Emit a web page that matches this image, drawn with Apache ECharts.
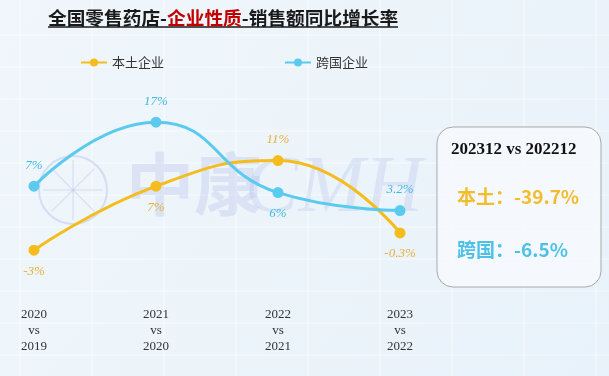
<!DOCTYPE html>
<html>
<head>
<meta charset="utf-8">
<script src="https://cdn.jsdelivr.net/npm/echarts@6/dist/echarts.min.js"></script>
<style>
html,body{margin:0;padding:0;}
#chart{width:609px;height:376px;}
</style>
</head>
<body>
<div id="chart"></div>
<script>
// data
let categories = ['2020\nvs\n2019','2021\nvs\n2020','2022\nvs\n2021','2023\nvs\n2022'];
let localData = [-3, 7, 11, -0.3];
let foreignData = [7, 17, 6, 3.2];
let localLabelPos = ['bottom','bottom','top','bottom'];
let foreignLabelPos = ['top','top','bottom','top'];
let localColor = '#F4BC1C';
let foreignColor = '#5ACAEE';

let chart = echarts.init(document.getElementById('chart'));

function makeData(vals, pos){
    return vals.map(function(v,i){
        return {value:v, label:{position:pos[i]}};
    });
}

// faint background grid like the slide
let bg = [];
for(let x=20;x<609;x+=72){
    bg.push({type:'line',silent:true,z:-10,shape:{x1:x,y1:0,x2:x,y2:376},style:{stroke:'rgba(255,255,255,0.35)',lineWidth:2}});
}
for(let y=35;y<376;y+=32){
    bg.push({type:'line',silent:true,z:-10,shape:{x1:0,y1:y,x2:609,y2:y},style:{stroke:'rgba(255,255,255,0.3)',lineWidth:2}});
}
// watermark logo petals
let wm = [];
for(let k=0;k<8;k++){
    let a = k*Math.PI/4;
    wm.push({type:'line',silent:true,z:-5,shape:{x1:73,y1:190,x2:73+30*Math.cos(a),y2:190+30*Math.sin(a)},style:{stroke:'rgba(175,185,230,0.3)',lineWidth:1.5}});
}

let option = {
    backgroundColor:new echarts.graphic.LinearGradient(0,0,1,1,[
        {offset:0,color:'#F0F6FB'},
        {offset:1,color:'#E8F2FA'}
    ]),
    title:{
        text:'{a|全国零售药店-}{b|企业性质}{a|-销售额同比增长率}',
        left:43,
        top:4,
        textStyle:{
            rich:{
                a:{color:'#1a1a1a',fontSize:18.7,fontWeight:'bold',fontFamily:'Noto Sans CJK SC'},
                b:{color:'#C00000',fontSize:18.7,fontWeight:'bold',fontFamily:'Noto Sans CJK SC'}
            }
        }
    },
    legend:{
        data:['本土企业','跨国企业'],
        left:75,
        top:51,
        itemGap:120,
        itemWidth:26,
        itemHeight:10,
        textStyle:{color:'#333',fontSize:13,fontFamily:'Noto Sans CJK SC'}
    },
    grid:{left:34,right:209,top:71,bottom:81,containLabel:false},
    xAxis:{
        type:'category',
        boundaryGap:false,
        data:categories,
        axisLine:{show:false},
        axisTick:{show:false},
        axisLabel:{
            color:'#333',
            fontSize:13,
            lineHeight:16,
            margin:12,
            fontFamily:'Liberation Serif'
        },
        splitLine:{show:false}
    },
    yAxis:{
        type:'value',
        min:-10,
        max:25,
        show:false,
        splitLine:{show:false}
    },
    graphic:bg.concat(wm).concat([
        {type:'line',shape:{x1:48,y1:27,x2:398,y2:27},style:{stroke:'#1a1a1a',lineWidth:1.5}},
        {type:'circle',silent:true,z:-5,shape:{cx:73,cy:190,r:34},style:{fill:'none',stroke:'rgba(175,185,230,0.4)',lineWidth:2}},
        {type:'text',silent:true,left:126,top:150,z:-5,style:{text:'中康',font:'bold 68px "Noto Sans CJK SC"',fill:'rgba(175,187,232,0.3)'}},
        {type:'text',silent:true,left:245,top:150,z:-5,style:{text:'CMH',font:'italic 80px "Liberation Serif"',fill:'rgba(175,187,232,0.28)'}},
        {type:'rect',shape:{x:437,y:127,width:164,height:160,r:16},style:{fill:'rgba(246,250,253,0.9)',stroke:'#A9A9A9',lineWidth:1}},
        {type:'text',left:451,top:141,style:{text:'202312 vs 202212',font:'bold 17px "Liberation Serif"',fill:'#111'}},
        {type:'text',left:457,top:187,style:{text:'本土：-39.7%',font:'bold 19px "Noto Sans CJK SC"',fill:'#F2BC2C'}},
        {type:'text',left:457,top:240,style:{text:'跨国：-6.5%',font:'bold 19px "Noto Sans CJK SC"',fill:'#4EC1E6'}}
    ]),
    series:[
        {
            name:'本土企业',
            type:'line',
            smooth:true,
            data:makeData(localData,localLabelPos),
            symbol:'circle',
            symbolSize:11,
            lineStyle:{width:3,color:localColor},
            itemStyle:{color:localColor},
            label:{
                show:true,
                formatter:'{c}%',
                color:'#E8B03C',
                fontSize:13,
                fontStyle:'italic',
                fontFamily:'Liberation Serif',
                distance:9
            },
            z:3
        },
        {
            name:'跨国企业',
            type:'line',
            smooth:true,
            data:makeData(foreignData,foreignLabelPos),
            symbol:'circle',
            symbolSize:11,
            lineStyle:{width:3,color:foreignColor},
            itemStyle:{color:foreignColor},
            label:{
                show:true,
                formatter:'{c}%',
                color:'#3FB8E2',
                fontSize:13,
                fontStyle:'italic',
                fontFamily:'Liberation Serif',
                distance:9
            },
            z:3
        }
    ]
};
chart.setOption(option);
</script>
</body>
</html>
